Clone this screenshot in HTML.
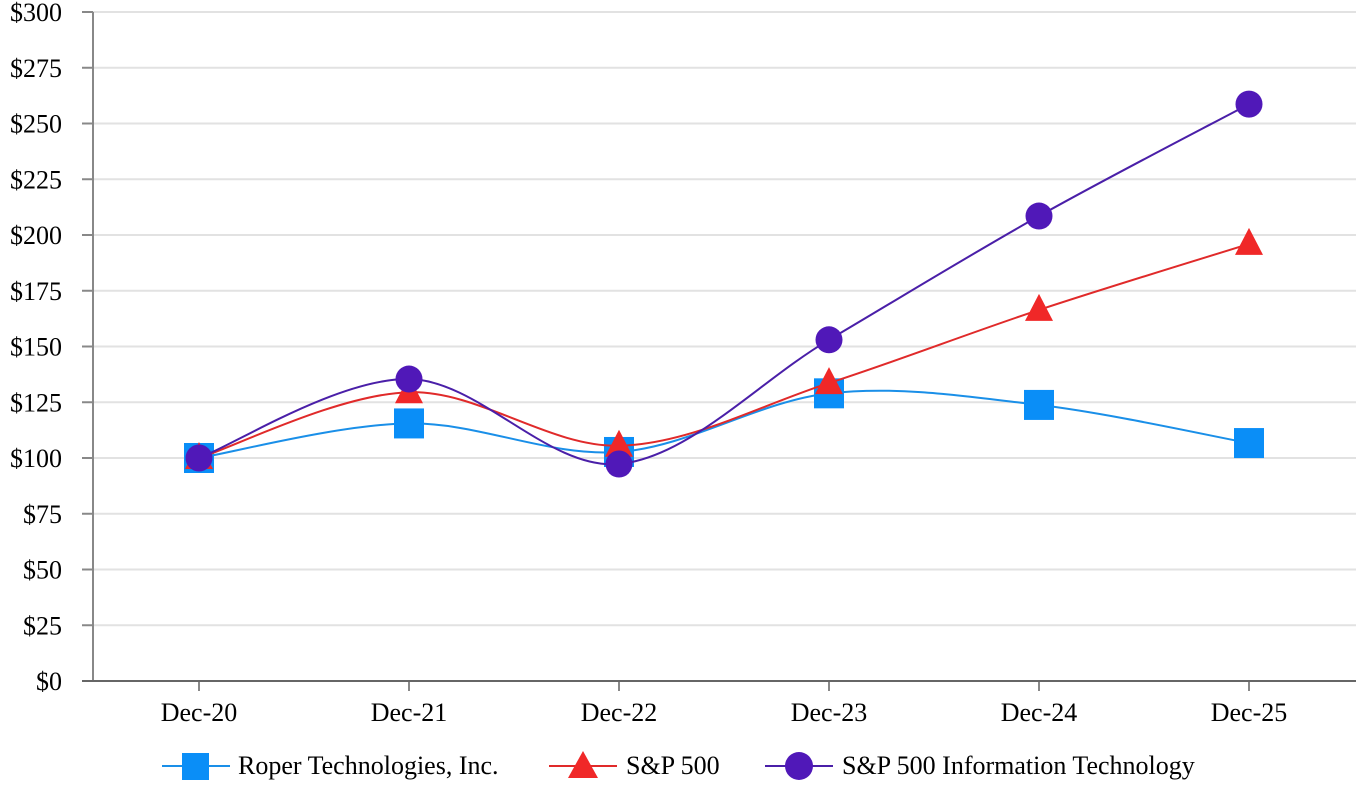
<!DOCTYPE html>
<html><head><meta charset="utf-8"><style>
body{margin:0;background:#fff}
svg{display:block;font-family:"Liberation Serif",serif}
</style></head><body>
<svg id="s" width="1368" height="786" viewBox="0 0 1368 786">
<g id="grid"></g>
<line x1="93" y1="12" x2="93" y2="681" stroke="#888" stroke-width="2"/>
<line x1="82" y1="681" x2="1356" y2="681" stroke="#666" stroke-width="2"/>
<g id="lines"></g>
<g font-size="26" fill="#000">
<line x1="162" y1="766" x2="230" y2="766" stroke="#1a8fe8" stroke-width="2"/>
<rect x="182" y="753" width="27" height="27" fill="#0a8ef7"/>
<text x="238" y="774">Roper Technologies, Inc.</text>
<line x1="549" y1="766" x2="617" y2="766" stroke="#e02a2a" stroke-width="2"/>
<polygon points="583,751 598,778 568,778" fill="#f02828"/>
<text x="626" y="774">S&amp;P 500</text>
<line x1="765" y1="766" x2="833" y2="766" stroke="#4a1fa8" stroke-width="2"/>
<circle cx="799" cy="766" r="14" fill="#5018b8"/>
<text x="842" y="774">S&amp;P 500 Information Technology</text>
</g>
</svg>
<script>
const NS="http://www.w3.org/2000/svg";
const g=document.getElementById('grid'),L=document.getElementById('lines');
function el(p,t,a,txt){const e=document.createElementNS(NS,t);for(const k in a)e.setAttribute(k,a[k]);if(txt!==undefined)e.textContent=txt;p.appendChild(e);return e;}
const Y=v=>681-v*669/300, X=i=>199+i*210;
for(let v=0;v<=300;v+=25){const y=Y(v);
 if(v>0)el(g,'line',{x1:93,y1:y,x2:1356,y2:y,stroke:'#e2e2e2','stroke-width':2});
 el(g,'line',{x1:82,y1:y,x2:93,y2:y,stroke:'#888','stroke-width':2});
 el(g,'text',{x:62,y:y+9,'font-size':26,'text-anchor':'end'},'$'+v);}
const labs=['Dec-20','Dec-21','Dec-22','Dec-23','Dec-24','Dec-25'];
labs.forEach((l,i)=>{el(g,'line',{x1:X(i),y1:681,x2:X(i),y2:691,stroke:'#888','stroke-width':2});
 el(g,'text',{x:X(i),y:721,'font-size':26,'text-anchor':'middle'},l);});
function path(d){const p=d.map((v,i)=>[X(i),Y(v)]);let s='M'+p[0];
 for(let i=0;i<p.length-1;i++){const p0=p[Math.max(i-1,0)],p1=p[i],p2=p[i+1],p3=p[Math.min(i+2,p.length-1)];
  const t=1/6;s+=` C${p1[0]+(p2[0]-p0[0])*t},${p1[1]+(p2[1]-p0[1])*t} ${p2[0]-(p3[0]-p1[0])*t},${p2[1]-(p3[1]-p1[1])*t} ${p2[0]},${p2[1]}`;}
 return s;}
const roper=[100,115.5,102.7,129,123.8,106.7],sp=[100,129.5,105.5,133.6,166.4,196],it=[100,135.4,97.3,153,208.5,258.7];
el(L,'path',{d:path(roper),fill:'none',stroke:'#1a8fe8','stroke-width':2});
roper.forEach((v,i)=>el(L,'rect',{x:X(i)-15,y:Y(v)-15,width:30,height:30,fill:'#0a8ef7'}));
el(L,'path',{d:path(sp),fill:'none',stroke:'#e02a2a','stroke-width':2});
sp.forEach((v,i)=>{const x=X(i),y=Y(v);el(L,'polygon',{points:`${x},${y-16} ${x+14},${y+11} ${x-14},${y+11}`,fill:'#f02828'})});
el(L,'path',{d:path(it),fill:'none',stroke:'#4a1fa8','stroke-width':2});
it.forEach((v,i)=>el(L,'circle',{cx:X(i),cy:Y(v),r:13.5,fill:'#5018b8'}));
</script>
</body></html>
